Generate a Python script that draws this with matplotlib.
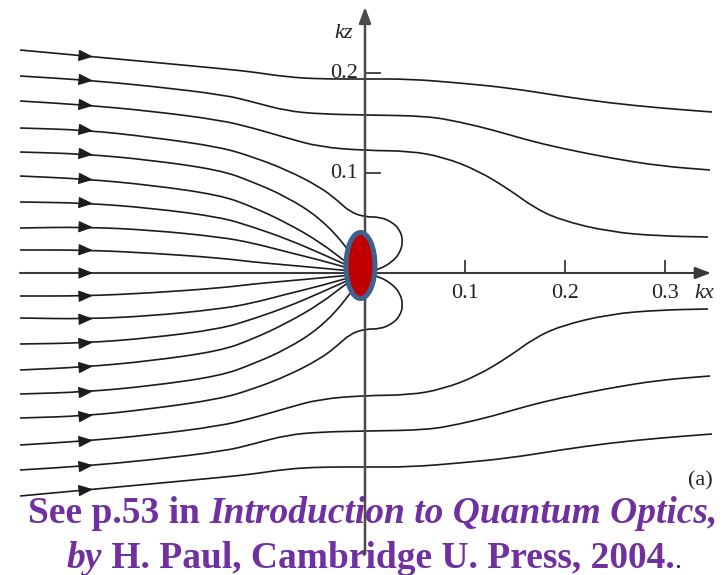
"""Poynting-vector flow lines around an absorbing dipole (kx-kz plane)."""
import numpy as np
import matplotlib.pyplot as plt
from matplotlib.patches import Ellipse, PathPatch
from matplotlib.path import Path

# flow lines in the upper half plane, (kx, kz); the lower half is the mirror image
LINE_1 = [(-0.345, 0.223), (-0.280, 0.217), (-0.215, 0.211), (-0.140, 0.204),
          (-0.112, 0.201), (-0.078, 0.196), (-0.045, 0.194), (0.000, 0.194),
          (0.045, 0.194), (0.095, 0.190), (0.145, 0.185), (0.195, 0.177),
          (0.245, 0.170), (0.295, 0.165), (0.347, 0.161)]
LINE_2 = [(-0.345, 0.197), (-0.280, 0.193), (-0.215, 0.187), (-0.140, 0.178),
          (-0.112, 0.171), (-0.078, 0.162), (-0.045, 0.159), (0.000, 0.158),
          (0.062, 0.157), (0.095, 0.151), (0.128, 0.143), (0.162, 0.133),
          (0.195, 0.125), (0.245, 0.115), (0.295, 0.107), (0.345, 0.103)]
LINE_3 = [(-0.345, 0.172), (-0.280, 0.168), (-0.215, 0.162), (-0.145, 0.153),
          (-0.112, 0.145), (-0.078, 0.135), (-0.045, 0.126), (0.000, 0.1225),
          (0.045, 0.122), (0.078, 0.116), (0.112, 0.103), (0.145, 0.083),
          (0.168, 0.066), (0.195, 0.053), (0.245, 0.041), (0.295, 0.037),
          (0.343, 0.036)]
LINE_4 = [(-0.345, 0.145), (-0.280, 0.143), (-0.215, 0.136), (-0.145, 0.126),
          (-0.112, 0.116), (-0.078, 0.103), (-0.045, 0.086), (-0.028, 0.073),
          (-0.015, 0.061), (0.000, 0.056), (0.015, 0.056), (0.027, 0.051),
          (0.035, 0.043), (0.038, 0.032), (0.035, 0.020), (0.027, 0.011),
          (0.015, 0.004), (0.000, 0.000)]
LINE_5 = [(-0.345, 0.121), (-0.280, 0.119), (-0.215, 0.113), (-0.145, 0.103),
          (-0.112, 0.091), (-0.078, 0.076), (-0.045, 0.055), (-0.018, 0.026),
          (-0.003, 0.002)]
LINE_6 = [(-0.345, 0.097), (-0.280, 0.094), (-0.215, 0.088), (-0.145, 0.078),
          (-0.112, 0.066), (-0.078, 0.050), (-0.045, 0.031), (-0.018, 0.010),
          (-0.003, 0.001)]
LINE_7 = [(-0.345, 0.071), (-0.280, 0.070), (-0.215, 0.065), (-0.145, 0.056),
          (-0.112, 0.046), (-0.078, 0.034), (-0.045, 0.020), (-0.003, 0.001)]
LINE_8 = [(-0.345, 0.045), (-0.280, 0.046), (-0.215, 0.043), (-0.145, 0.036),
          (-0.112, 0.030), (-0.078, 0.021), (-0.045, 0.013), (-0.003, 0.001)]
LINE_9 = [(-0.345, 0.023), (-0.280, 0.023), (-0.215, 0.020), (-0.145, 0.015),
          (-0.112, 0.011), (-0.078, 0.008), (-0.045, 0.005), (-0.003, 0.001)]
UPPER_LINES = [LINE_1, LINE_2, LINE_3, LINE_4, LINE_5, LINE_6, LINE_7, LINE_8, LINE_9]

KX_TICKS = [0.1, 0.2, 0.3]
KZ_TICKS = [0.1, 0.2]
ARROW_KX = -0.272

LINE_COLOR = "#1c1c1c"
AXIS_COLOR = "#3a3a3a"
PURPLE = "#7030A0"
SERIF = "Liberation Serif"
LABEL_SIZE = 16

fig = plt.figure(figsize=(7.23, 5.75), dpi=100)
ax = fig.add_axes([0, 0, 1, 1])
ax.set_xlim(-0.365, 0.358)
ax.set_ylim(-0.302, 0.273)
ax.set_aspect("equal")
ax.axis("off")


def curve(pts):
    # quadratic Bezier pieces through the midpoints, the points act as controls
    pts = np.asarray(pts)
    mids = (pts[:-1] + pts[1:]) / 2
    verts = [pts[0], mids[0]]
    codes = [Path.MOVETO, Path.LINETO]
    for i in range(1, len(pts) - 1):
        verts += [pts[i], mids[i]]
        codes += [Path.CURVE3, Path.CURVE3]
    verts.append(pts[-1])
    codes.append(Path.LINETO)
    return Path(verts, codes)


def mid_arrow(kx, kz):
    i = np.searchsorted(kx, ARROW_KX)
    slope = (kz[i] - kz[i - 1]) / (kx[i] - kx[i - 1])
    z0 = np.interp(ARROW_KX, kx, kz)
    d = 0.006
    ax.annotate("", xy=(ARROW_KX, z0), xytext=(ARROW_KX - d, z0 - slope * d),
                arrowprops=dict(arrowstyle="-|>,head_length=0.75,head_width=0.3",
                                color=LINE_COLOR, lw=0.8, mutation_scale=12,
                                shrinkA=0, shrinkB=0), zorder=3)


for line in UPPER_LINES:
    pts = np.array(line)
    for sign in (1, -1):
        p = pts * [1, sign]
        ax.add_patch(PathPatch(curve(p), facecolor="none", edgecolor=LINE_COLOR,
                               lw=1.2, zorder=2))
        mid_arrow(p[:, 0], p[:, 1])

# axes with arrowheads
ax.annotate("", xy=(0.346, 0), xytext=(-0.345, 0),
            arrowprops=dict(arrowstyle="-|>,head_length=0.8,head_width=0.3",
                            color=AXIS_COLOR, lw=1.5, mutation_scale=12,
                            shrinkA=0, shrinkB=0), zorder=3)
mid_arrow(np.array([-0.345, 0.0]), np.array([0.0, 0.0]))
ax.annotate("", xy=(0, 0.266), xytext=(0, -0.281),
            arrowprops=dict(arrowstyle="-|>,head_length=0.8,head_width=0.3",
                            color="#4a4a4a", lw=1.8, mutation_scale=12,
                            shrinkA=0, shrinkB=0), zorder=6)

for t in KX_TICKS:
    ax.plot([t, t], [0, 0.0125], color=AXIS_COLOR, lw=1.3, zorder=3)
    ax.text(t, -0.021, f"{t:.1f}", ha="center", va="center", fontsize=LABEL_SIZE,
            family=SERIF, color="#222222")
for t in KZ_TICKS:
    ax.plot([0, 0.015], [t, t], color=AXIS_COLOR, lw=1.3, zorder=3)
    ax.text(-0.007, t, f"{t:.1f}", ha="right", va="center", fontsize=LABEL_SIZE,
            family=SERIF, color="#222222")
ax.text(0.339, -0.021, "kx", ha="center", va="center", fontsize=LABEL_SIZE,
        family=SERIF, style="italic", color="#222222")
ax.text(-0.021, 0.240, "kz", ha="center", va="center", fontsize=LABEL_SIZE,
        family=SERIF, style="italic", color="#222222")
ax.text(0.335, -0.208, "(a)", ha="center", va="center", fontsize=LABEL_SIZE,
        family=SERIF, color="#222222")

# the dipole
ax.add_patch(Ellipse((-0.0045, 0.0075), 0.029, 0.066, facecolor="#C00000",
                     edgecolor="#3F6190", lw=3.6, zorder=7))

# reference text, built from mixed-style pieces
renderer = fig.canvas.get_renderer()
W = 723.0


def text_line(pieces, xc_px, base_px):
    y = (575.0 - base_px) / 575.0
    objs = []
    for s, style, color, size in pieces:
        weight = "normal" if color != PURPLE else "bold"
        objs.append(ax.text(0, y, s, transform=ax.transAxes, va="baseline",
                            ha="left", fontsize=size, family=SERIF, style=style,
                            weight=weight, color=color, zorder=5))
    widths = [o.get_window_extent(renderer).width for o in objs]
    x = xc_px - sum(widths) / 2
    for o, w in zip(objs, widths):
        o.set_x(x / W)
        x += w


text_line([("See p.53 in ", "normal", PURPLE, 27),
           ("Introduction to Quantum Optics,", "italic", PURPLE, 27)], 373, 523)
text_line([("by", "italic", PURPLE, 27),
           (" H. Paul, Cambridge U. Press, 2004.", "normal", PURPLE, 27),
           (".", "normal", "#1010C0", 20)], 374, 568)

fig.savefig("out.png", dpi=100)
